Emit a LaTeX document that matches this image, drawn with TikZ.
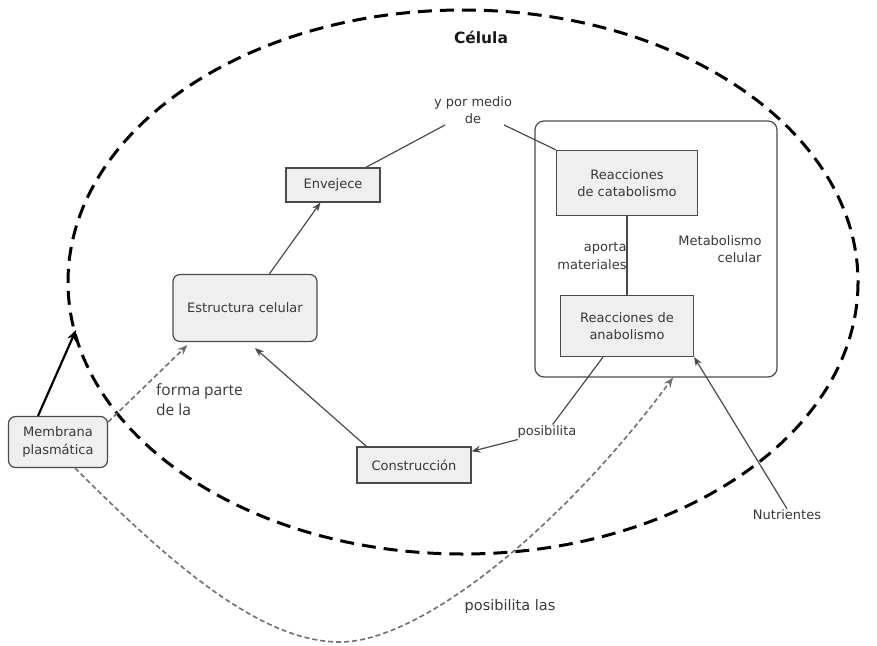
\documentclass[tikz,border=0pt]{standalone}
\usepackage{fontspec}
\setmainfont{DejaVu Sans}
\newfontfamily\osans{Open Sans}
\usetikzlibrary{arrows.meta,calc}
\definecolor{boxfill}{HTML}{EFEFEF}
\definecolor{lin}{HTML}{4A4A4A}
\definecolor{txt}{HTML}{383838}
\definecolor{dgray}{HTML}{707070}
\tikzset{
  box/.style={draw=lin, fill=boxfill, line width=1.2pt, text=txt, align=center, inner sep=0pt,
    font=\fontsize{13}{17.5}\selectfont},
  rbox/.style={box, rounded corners=7pt},
  lbl/.style={text=txt, align=center, inner sep=1pt, font=\fontsize{13}{17.5}\selectfont},
  conn/.style={draw=lin, line width=1.2pt},
  arr/.style={conn, -{Stealth[length=9pt,width=7pt]}},
  garr/.style={draw=dgray, line width=1.6pt, dash pattern=on 5pt off 3pt, -{Stealth[length=10pt,width=8pt]}}
}
\begin{document}
\begin{tikzpicture}[x=1pt,y=-1pt]
\useasboundingbox (0,0) rectangle (877,645);
% cell membrane ellipse
\draw[black, line width=3pt, dash pattern=on 14pt off 8pt] (463,282) ellipse [x radius=395, y radius=272];
\node[font=\bfseries\fontsize{15.5}{17}\selectfont, text=black!90] (title) at (481,37) {Célula};
% metabolism container
\node[draw=lin, line width=1.2pt, rounded corners=9pt, minimum width=242pt, minimum height=256pt, inner sep=0pt] (meta) at (656,249) {};
\node[lbl, align=right] (metab) at (720,249) {Metabolismo\\celular};
% boxes
\node[box, minimum width=94pt, minimum height=34pt] (env) at (333,185) {Envejece};
\node[box, minimum width=141pt, minimum height=65pt] (cat) at (627,183) {Reacciones\\de catabolismo};
\node[box, minimum width=133pt, minimum height=61pt] (ana) at (627,326) {Reacciones de\\anabolismo};
\node[rbox, minimum width=144pt, minimum height=67pt] (est) at (245,308) {Estructura celular};
\node[rbox, minimum width=99pt, minimum height=51pt] (mem) at (58,442) {Membrana\\plasmática};
\node[box, minimum width=114pt, minimum height=36pt] (con) at (414,465) {Construcción};
% labels
\node[lbl] (ypor) at (473,110) {y por medio\\de};
\node[lbl, align=right] (aporta) at (592,256) {aporta\\materiales};
\node[lbl] (posib) at (547,432) {posibilita};
\node[lbl, anchor=west, align=left, font=\osans\fontsize{15.5}{20}\selectfont] (forma) at (155,400) {forma parte\\de la};
\node[lbl, font=\fontsize{14.5}{17}\selectfont] (posl) at (510,606) {posibilita las};
\node[lbl] (nut) at (787,515) {Nutrientes};
\coordinate (membr) at (76,330);
\coordinate (bend) at (340,642);
% connectors
\draw[conn] (env) -- (ypor);
\draw[conn] (ypor) -- (cat.north west);
\draw[conn] (cat.south) -- (ana.north);
\draw[arr] (est) -- (env);
\draw[arr] ($(con.north west)+(10,0)$) -- ($(est.south)+(10,6)$);
\draw[conn] ($(ana.south)+(-24,0)$) -- (posib);
\draw[arr] (posib) -- ($(con.north east)+(0,5)$);
\draw[arr] (nut.north) -- (ana.south east);
\draw[draw=black, line width=2.2pt, -{Stealth[length=11pt,width=9pt]}] ($(mem.north)+(-20,0)$) -- (membr);
\draw[garr] ($(mem.east)+(0,-20)$) -- ($(est.south west)+(15,3)$);
\draw[garr] ($(mem.south)+(17,0)$) .. controls (170,563) and (260,642) .. (bend)
  .. controls (420,642) and (560,530) .. ($(meta.south)+(17,0)$);
\end{tikzpicture}
\end{document}
